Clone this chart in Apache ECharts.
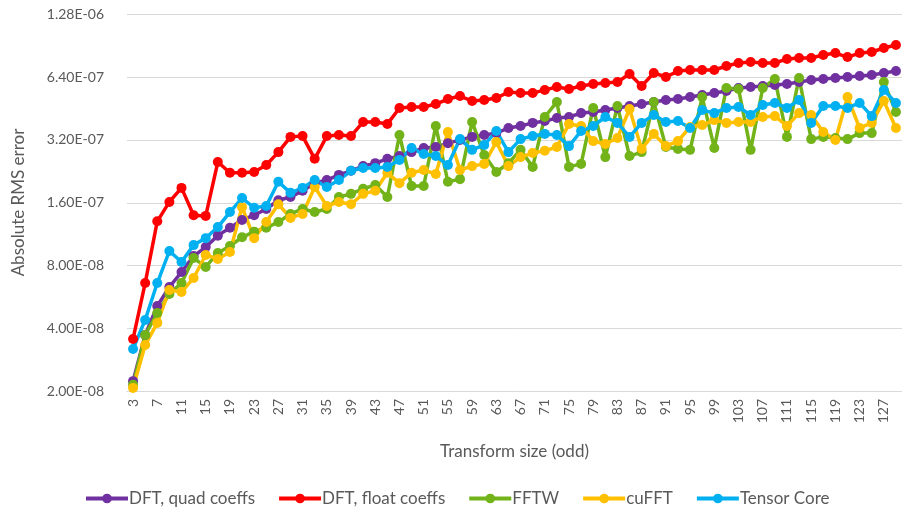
<!DOCTYPE html>
<html>
<head>
<meta charset="utf-8">
<script src="https://cdn.jsdelivr.net/npm/echarts@6/dist/echarts.min.js"></script>
<style>
  html, body { margin: 0; padding: 0; background: #fff; }
  #chart { width: 902px; height: 517px; }
</style>
</head>
<body>
<div id="chart"></div>
<script>
// Odd transform sizes
const sizes = [3,5,7,9,11,13,15,17,19,21,23,25,27,29,31,33,35,37,39,41,43,45,47,49,51,53,55,57,59,61,63,65,
  67,69,71,73,75,77,79,81,83,85,87,89,91,93,95,97,99,101,103,105,107,109,111,113,115,117,119,121,123,125,127,129];

// Absolute RMS error per method
const dftQuad = [2.23e-8,3.71e-8,5.11e-8,6.30e-8,7.43e-8,8.86e-8,9.79e-8,1.11e-7,1.21e-7,1.32e-7,1.39e-7,1.49e-7,
  1.64e-7,1.70e-7,1.82e-7,1.98e-7,2.05e-7,2.17e-7,2.27e-7,2.39e-7,2.47e-7,2.59e-7,2.67e-7,2.79e-7,2.92e-7,2.95e-7,
  3.08e-7,3.19e-7,3.30e-7,3.37e-7,3.44e-7,3.64e-7,3.72e-7,3.85e-7,3.93e-7,4.06e-7,4.11e-7,4.29e-7,4.34e-7,4.44e-7,
  4.54e-7,4.64e-7,4.74e-7,4.85e-7,4.96e-7,5.01e-7,5.12e-7,5.24e-7,5.35e-7,5.47e-7,5.66e-7,5.72e-7,5.78e-7,5.85e-7,
  5.91e-7,6.05e-7,6.18e-7,6.25e-7,6.32e-7,6.39e-7,6.46e-7,6.53e-7,6.68e-7,6.82e-7];

const dftFloat = [3.55e-8,6.58e-8,1.30e-7,1.61e-7,1.88e-7,1.39e-7,1.38e-7,2.50e-7,2.22e-7,2.22e-7,2.24e-7,2.42e-7,
  2.79e-7,3.30e-7,3.33e-7,2.59e-7,3.33e-7,3.37e-7,3.33e-7,3.89e-7,3.89e-7,3.80e-7,4.54e-7,4.59e-7,4.59e-7,4.74e-7,
  5.01e-7,5.18e-7,4.90e-7,4.96e-7,5.07e-7,5.41e-7,5.35e-7,5.35e-7,5.54e-7,5.72e-7,5.60e-7,5.78e-7,5.91e-7,5.98e-7,
  6.05e-7,6.60e-7,5.78e-7,6.68e-7,6.39e-7,6.82e-7,6.90e-7,6.90e-7,6.90e-7,7.21e-7,7.46e-7,7.54e-7,7.46e-7,7.46e-7,
  7.79e-7,7.88e-7,7.88e-7,8.14e-7,8.32e-7,7.96e-7,8.32e-7,8.42e-7,8.80e-7,9.09e-7];

const fftw = [2.14e-8,3.71e-8,4.73e-8,5.83e-8,6.58e-8,8.67e-8,7.86e-8,9.17e-8,9.90e-8,1.09e-7,1.16e-7,1.21e-7,
  1.29e-7,1.41e-7,1.49e-7,1.44e-7,1.49e-7,1.70e-7,1.76e-7,1.86e-7,1.94e-7,1.70e-7,3.37e-7,1.92e-7,1.92e-7,3.72e-7,
  2.01e-7,2.07e-7,3.89e-7,2.70e-7,2.24e-7,2.47e-7,2.86e-7,2.37e-7,4.11e-7,4.85e-7,2.37e-7,2.45e-7,4.54e-7,2.64e-7,
  4.64e-7,2.67e-7,2.79e-7,4.85e-7,2.95e-7,2.89e-7,2.86e-7,5.12e-7,2.92e-7,5.66e-7,5.60e-7,2.86e-7,5.66e-7,6.25e-7,
  3.30e-7,6.32e-7,3.22e-7,3.30e-7,3.26e-7,3.22e-7,3.44e-7,3.44e-7,6.05e-7,4.34e-7];

const cufft = [2.07e-8,3.32e-8,4.24e-8,6.10e-8,5.96e-8,6.96e-8,8.97e-8,8.58e-8,9.27e-8,1.52e-7,1.08e-7,1.29e-7,
  1.57e-7,1.35e-7,1.41e-7,1.90e-7,1.54e-7,1.61e-7,1.57e-7,1.76e-7,1.82e-7,2.22e-7,1.98e-7,2.22e-7,2.29e-7,2.19e-7,
  3.48e-7,2.29e-7,2.39e-7,2.45e-7,3.12e-7,2.39e-7,2.64e-7,2.76e-7,2.83e-7,2.95e-7,3.80e-7,3.72e-7,3.15e-7,3.05e-7,
  3.26e-7,4.49e-7,2.89e-7,3.41e-7,2.98e-7,3.15e-7,3.68e-7,3.76e-7,3.97e-7,3.85e-7,3.89e-7,3.89e-7,4.11e-7,4.15e-7,
  3.72e-7,4.29e-7,4.20e-7,3.48e-7,3.19e-7,5.12e-7,3.64e-7,3.85e-7,4.90e-7,3.64e-7];

const tensorCore = [3.18e-8,4.38e-8,6.58e-8,9.37e-8,8.30e-8,1.00e-7,1.08e-7,1.22e-7,1.44e-7,1.68e-7,1.51e-7,1.54e-7,
  2.01e-7,1.78e-7,1.88e-7,2.05e-7,1.90e-7,2.05e-7,2.27e-7,2.34e-7,2.34e-7,2.37e-7,2.56e-7,2.92e-7,2.73e-7,2.67e-7,
  2.42e-7,3.22e-7,2.86e-7,3.02e-7,3.52e-7,2.79e-7,3.22e-7,3.33e-7,3.41e-7,3.37e-7,2.98e-7,3.52e-7,3.72e-7,4.11e-7,
  3.85e-7,3.30e-7,3.85e-7,4.20e-7,3.89e-7,3.93e-7,3.64e-7,4.44e-7,4.29e-7,4.54e-7,4.59e-7,4.20e-7,4.69e-7,4.80e-7,
  4.54e-7,4.96e-7,3.85e-7,4.64e-7,4.64e-7,4.54e-7,4.80e-7,4.15e-7,5.54e-7,4.80e-7];

const seriesNames = ['DFT, quad coeffs', 'DFT, float coeffs', 'FFTW', 'cuFFT', 'Tensor Core'];
const seriesData = [dftQuad, dftFloat, fftw, cufft, tensorCore];
const seriesColors = ['#7030A0', '#FF0000', '#72B31A', '#FFC000', '#00B0F0'];

// Log-2 value axis: bottom and top
const Y_MIN = 2e-8;
const Y_MAX = 1.28e-6;

const FONT = 'Lato';
const TEXT = '#595959';

// 2.00E-08 style labels; snaps the tick to its exact doubling of Y_MIN
function sci(v) {
  const k = Math.round(Math.log2(v / Y_MIN));
  const exact = Y_MIN * Math.pow(2, k);
  const parts = exact.toExponential(2).split('e');
  const n = parseInt(parts[1], 10);
  return parts[0] + 'E' + (n < 0 ? '-' : '+') + String(Math.abs(n)).padStart(2, '0');
}

const chart = echarts.init(document.getElementById('chart'), null, { renderer: 'canvas' });

chart.setOption({
  animation: false,
  backgroundColor: '#fff',
  textStyle: { fontFamily: FONT, color: TEXT },
  grid: { left: 127, top: 14, width: 780, height: 377, containLabel: false },
  legend: {
    bottom: 10,
    left: 84,
    padding: 0,
    itemWidth: 42,
    itemHeight: 12,
    itemGap: 22,
    lineStyle: { width: 4 },
    textStyle: { fontFamily: FONT, fontSize: 17, color: TEXT, padding: [0, 0, 0, -4] },
    data: seriesNames
  },
  xAxis: {
    type: 'category',
    data: sizes,
    boundaryGap: true,
    name: 'Transform size (odd)',
    nameLocation: 'middle',
    nameGap: 52,
    nameTextStyle: { fontFamily: FONT, fontSize: 17, color: TEXT },
    axisLine: { show: true, lineStyle: { color: '#D9D9D9', width: 1 } },
    axisTick: { show: false },
    axisLabel: { interval: 1, rotate: 90, margin: 8, fontSize: 14, color: TEXT, fontFamily: FONT },
    splitLine: { show: false }
  },
  yAxis: {
    type: 'log',
    logBase: 2,
    min: Y_MIN,
    max: Y_MAX,
    interval: 1,
    name: 'Absolute RMS error',
    nameLocation: 'middle',
    nameGap: 100,
    nameTextStyle: { fontFamily: FONT, fontSize: 17, color: TEXT },
    axisLine: { show: false },
    axisTick: { show: false },
    axisLabel: { margin: 23, fontSize: 14, color: TEXT, fontFamily: FONT, formatter: sci },
    splitLine: { show: true, lineStyle: { color: '#D9D9D9', width: 1 } }
  },
  series: seriesNames.map((name, i) => ({
    name: name,
    type: 'line',
    data: seriesData[i],
    symbol: 'circle',
    symbolSize: 10,
    showSymbol: true,
    showAllSymbol: true,
    color: seriesColors[i],
    lineStyle: { width: 3.5, color: seriesColors[i] },
    itemStyle: { color: seriesColors[i] },
    emphasis: { disabled: true }
  }))
});
</script>
</body>
</html>
